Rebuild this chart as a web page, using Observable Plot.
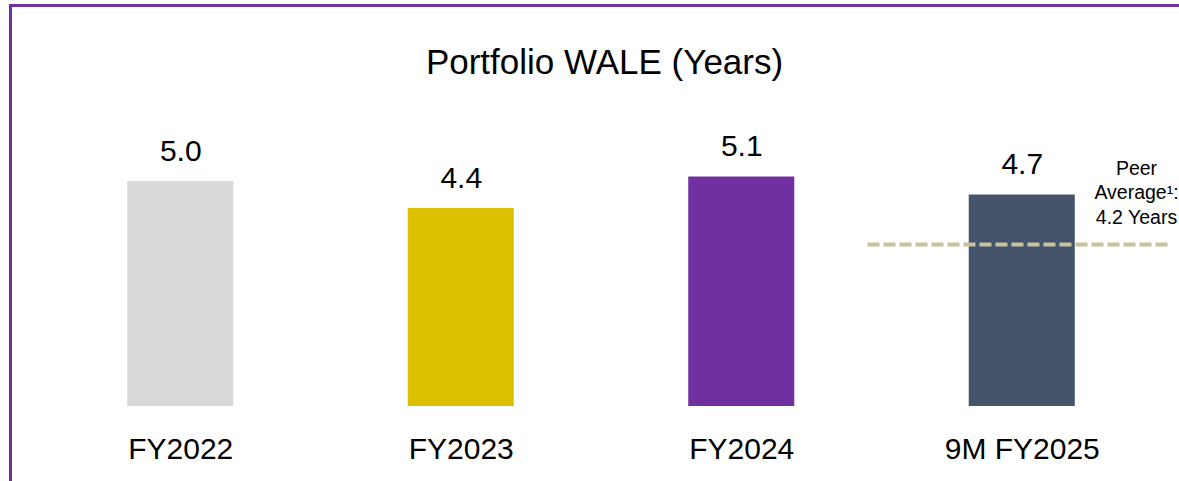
<!DOCTYPE html>
<html>
<head>
<meta charset="utf-8">
<script src="https://cdn.jsdelivr.net/npm/d3@7"></script>
<script src="https://cdn.jsdelivr.net/npm/@observablehq/plot@0.6"></script>
<style>
  html, body { margin: 0; padding: 0; background: #fff; width: 1179px; height: 481px; overflow: hidden; }
  #frame { position: absolute; left: 9px; top: 4px; width: 1200px; height: 500px;
           border-top: 3px solid #7030A0; border-left: 3px solid #7030A0; box-sizing: border-box; }
  #chart { position: absolute; left: 0; top: 0; }
</style>
</head>
<body>
<div id="frame"></div>
<div id="chart"></div>
<script>
const categories = ["FY2022", "FY2023", "FY2024", "9M FY2025"];
const values = [5.0, 4.4, 5.1, 4.7];
const colors = ["#D9D9D9", "#DCC000", "#7030A0", "#44546A"];
const title = "Portfolio WALE (Years)";
const peerAverage = 4.2;          // labelled value
const peerLineLevel = 3.6;        // level at which the dashed line is drawn in the picture
const peerLabel = ["Peer", "Average¹:", `${peerAverage.toFixed(1)} Years`];

const data = categories.map((c, i) => ({ i, category: c, value: values[i], color: colors[i] }));
const half = 0.189;

const chart = Plot.plot({
  width: 1179,
  height: 481,
  marginLeft: 40,
  marginRight: 17,
  marginTop: 46,
  marginBottom: 75,
  style: { fontFamily: "'Liberation Sans', Arial, sans-serif", color: "#000", background: "transparent", overflow: "visible" },
  x: { type: "linear", domain: [-0.5, 3.5], label: null },
  y: { domain: [0, 8], axis: null },
  marks: [
    Plot.rectY(data, { x1: d => d.i - half, x2: d => d.i + half, y: "value", fill: "color" }),
    Plot.ruleY([peerLineLevel], { y: d => d, x1: 2.45, x2: 3.52, stroke: "#C8C29C", strokeWidth: 4, strokeDasharray: "12,4" }),
    Plot.text(data, { x: "i", y: "value", text: d => d.value.toFixed(1), lineAnchor: "bottom", dy: -21, fontSize: 30, fill: "#000" }),
    Plot.axisX({ ticks: [0, 1, 2, 3], tickFormat: i => categories[i], tickSize: 0, tickPadding: 31, fontSize: 30, fill: "#000", label: null }),
    Plot.text([title], { frameAnchor: "top", text: d => d, lineAnchor: "top", dy: 3, dx: 3, fontSize: 35, fill: "#000" }),
    Plot.text([peerLabel.join("\n")], { frameAnchor: "top-right", text: d => d, textAnchor: "middle", lineAnchor: "top", dx: -26, dy: 111, fontSize: 19.5, lineHeight: 1.25, fill: "#000" })
  ]
});
document.getElementById("chart").appendChild(chart);
</script>
</body>
</html>
